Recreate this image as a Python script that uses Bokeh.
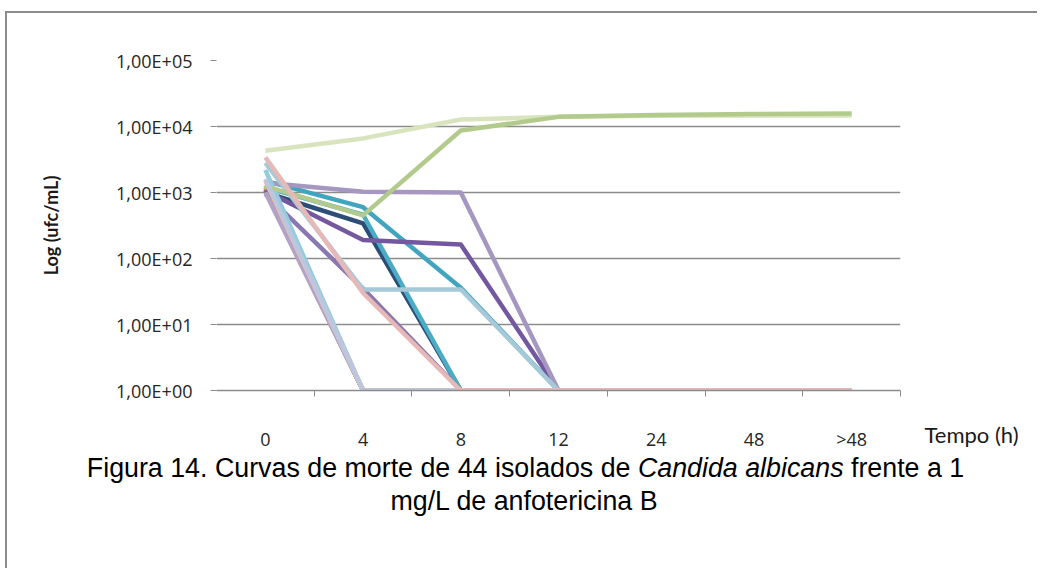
from bokeh.plotting import figure
from bokeh.layouts import column, row
from bokeh.models import FixedTicker, Range1d
from bokeh.core.properties import value
from bokeh.embed import file_html
from bokeh.resources import INLINE

# ---------------- data ----------------
categories = ["0", "4", "8", "12", "24", "48", ">48"]
y_ticks = [1, 10, 100, 1000, 10000, 100000]
y_tick_labels = ["1,00E+00", "1,00E+01", "1,00E+02", "1,00E+03", "1,00E+04", "1,00E+05"]

# ufc/mL per isolate (1 = limit of detection, plotted as 1,00E+00)
navy_1 = [1000, 340, 1, 1, 1, 1, 1]
teal_2 = [1200, 460, 1, 1, 1, 1, 1]
teal_1 = [1500, 600, 36, 1, 1, 1, 1]
purple_dark = [1050, 190, 163, 1, 1, 1, 1]
purple_mid = [950, 35, 1, 1, 1, 1, 1]
purple_light = [1400, 1030, 1000, 1, 1, 1, 1]
blue_light = [2800, 34, 34, 1, 1, 1, 1]
olive_1 = [1100, 1, 1, 1, 1, 1, 1]
olive_2 = [1300, 1, 1, 1, 1, 1, 1]
orange_1 = [1200, 1, 1, 1, 1, 1, 1]
purple_2 = [1100, 1, 1, 1, 1, 1, 1]
cyan_1 = [2200, 1, 1, 1, 1, 1, 1]
lilac_1 = [1000, 1, 1, 1, 1, 1, 1]
peach_1 = [1500, 1, 1, 1, 1, 1, 1]
green_pale = [4300, 6600, 12800, 14000, 14500, 14700, 14700]
green_1 = [1250, 450, 8700, 14000, 15000, 15500, 15800]
lavender_blue = [1600, 1, 1, 1, 1, 1, 1]
pink_1 = [3400, 30, 1, 1, 1, 1, 1]

series = [
    (navy_1, "#2c4d75"),
    (teal_2, "#4bacc6"),
    (teal_1, "#42a5c0"),
    (purple_dark, "#73589f"),
    (purple_mid, "#8a78b0"),
    (purple_light, "#a597c0"),
    (blue_light, "#a6c9d8"),
    (olive_1, "#9bbb59"),
    (orange_1, "#e98a3a"),
    (olive_2, "#b3c98d"),
    (purple_2, "#8064a2"),
    (cyan_1, "#93cddd"),
    (lilac_1, "#b3a2c7"),
    (peach_1, "#fac090"),
    (green_pale, "#d7e4bd"),
    (green_1, "#b2cb8c"),
    (lavender_blue, "#bcc7df"),
    (pink_1, "#e6b9b8"),
]

x_title = "Tempo (h)"
y_title = "Log (ufc/mL)"
caption_a = "Figura 14. Curvas de morte de 44 isolados de"
caption_b = "Candida albicans"
caption_c = "frente a 1"
caption_2 = "mg/L de anfotericina B"

# ---------------- layout sizes ----------------
TOTAL_W = 1030
MAIN_W, MAIN_H = 898, 440
SIDE_W = TOTAL_W - MAIN_W
CAP_H = 115


def bare(width, height, **kw):
    f = figure(width=width, height=height, output_backend="svg", toolbar_location=None,
               min_border=0, min_border_left=0, min_border_right=0,
               min_border_top=0, min_border_bottom=0, **kw)
    f.outline_line_color = None
    f.grid.visible = False
    f.background_fill_color = "white"
    f.border_fill_color = "white"
    return f


# ---------------- main chart ----------------
p = figure(width=MAIN_W, height=MAIN_H, x_range=Range1d(0, len(categories)),
           y_range=Range1d(y_ticks[0], y_ticks[-1]), y_axis_type="log",
           output_backend="svg", toolbar_location=None,
           min_border_left=209, min_border_right=MAIN_W - 209 - 684,
           min_border_top=47, min_border_bottom=MAIN_H - 47 - 330)
p.outline_line_color = None
p.background_fill_color = "white"
p.border_fill_color = "white"

xs = [i + 0.5 for i in range(len(categories))]
for vals, col in series:
    p.line(xs, vals, line_color=col, line_width=4.5, line_join="round")

p.xgrid.grid_line_color = None
p.ygrid.ticker = FixedTicker(ticks=y_ticks)
p.ygrid.grid_line_color = "#8c8c8c"
p.ygrid.grid_line_width = 1.6

p.yaxis.ticker = FixedTicker(ticks=y_ticks, minor_ticks=[])
p.yaxis.major_label_overrides = {t: l for t, l in zip(y_ticks, y_tick_labels)}
p.yaxis.axis_line_color = None
p.yaxis.major_tick_line_color = "#8c8c8c"
p.yaxis.major_tick_out = 6
p.yaxis.major_tick_in = 0
p.yaxis.minor_tick_line_color = None
p.yaxis.major_label_standoff = 18
p.yaxis.major_label_text_font = "Open Sans"
p.yaxis.major_label_text_font_size = "18px"
p.yaxis.major_label_text_color = "#262626"
p.yaxis.axis_label = y_title
p.yaxis.axis_label_text_font = "Lato"
p.yaxis.axis_label_text_font_style = "bold"
p.yaxis.axis_label_text_font_size = "18px"
p.yaxis.axis_label_text_color = "#1a1a1a"
p.yaxis.axis_label_standoff = 51

p.xaxis.ticker = FixedTicker(ticks=xs, minor_ticks=[i + 1 for i in range(len(categories))])
p.xaxis.major_label_overrides = {x: c for x, c in zip(xs, categories)}
p.xaxis.axis_line_color = "#8c8c8c"
p.xaxis.axis_line_width = 1.6
p.xaxis.major_tick_line_color = None
p.xaxis.major_tick_out = 6
p.xaxis.major_tick_in = 0
p.xaxis.minor_tick_line_color = "#8c8c8c"
p.xaxis.minor_tick_out = 6
p.xaxis.minor_tick_in = 0
p.xaxis.major_label_standoff = 30
p.xaxis.major_label_text_font = "Open Sans"
p.xaxis.major_label_text_font_size = "18px"
p.xaxis.major_label_text_color = "#262626"

# ---------------- side panel: x-axis title as an axis label ----------------
side = bare(SIDE_W, MAIN_H, x_range=Range1d(0, 1), y_range=Range1d(0, 1), y_axis_location=None)
side.xaxis.ticker = FixedTicker(ticks=[], minor_ticks=[])
side.xaxis.axis_line_color = None
side.xaxis.major_tick_line_color = None
side.xaxis.minor_tick_line_color = None
side.xaxis.major_tick_out = 0
side.xaxis.minor_tick_out = 0
side.xaxis.major_label_standoff = 0
side.xaxis.axis_label = x_title
side.xaxis.axis_label_text_font = "Lato"
side.xaxis.axis_label_text_font_style = "normal"
side.xaxis.axis_label_text_font_size = "22px"
side.xaxis.axis_label_text_color = "#1a1a1a"
side.xaxis.axis_label_standoff = 30

# ---------------- caption ----------------
cap = bare(TOTAL_W, CAP_H, x_range=Range1d(0, TOTAL_W), y_range=Range1d(CAP_H, 0),
           x_axis_location=None, y_axis_location=None)
fs = 26.8
space = 0.278 * fs
wa, wb, wc = 20.287 * fs, 7.670 * fs, 4.225 * fs
cx = 518
x0 = cx - (wa + wb + wc + 2 * space) / 2
cap.text(x=[x0, x0 + wa + space + wb + space], y=[14, 14], text=[caption_a, caption_c],
         text_font=value("Liberation Sans"), text_font_size=f"{fs}px",
         text_color="black", text_baseline="middle", text_align="left")
cap.text(x=[x0 + wa + space], y=[14], text=[caption_b],
         text_font=value("Liberation Sans"), text_font_size=f"{fs}px", text_font_style="italic",
         text_color="black", text_baseline="middle", text_align="left")
cap.text(x=[cx - 1], y=[47], text=[caption_2],
         text_font=value("Liberation Sans"), text_font_size=f"{fs}px",
         text_color="black", text_baseline="middle", text_align="center")

layout = column(row(p, side, spacing=0), cap, spacing=0)
layout.styles = {"border-left": "2px solid #8c8c8c", "border-top": "2px solid #8c8c8c",
                 "margin-left": "5px", "margin-top": "11px"}

open("out.html", "w").write(file_html(layout, INLINE))
